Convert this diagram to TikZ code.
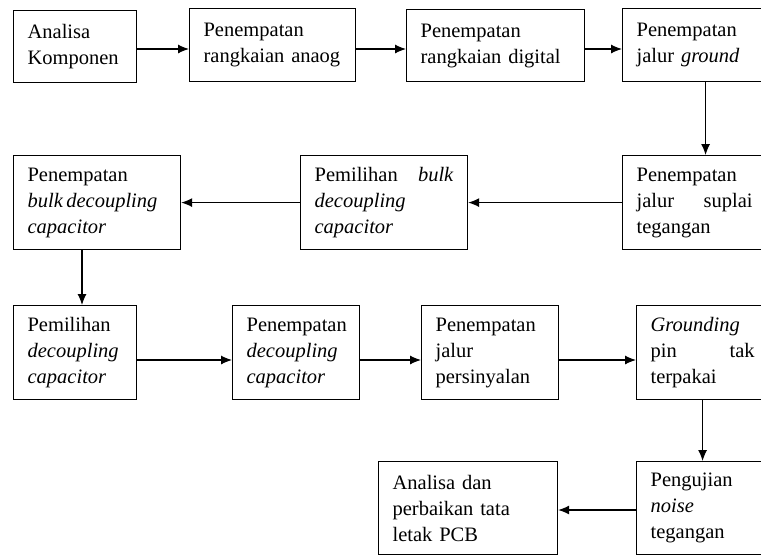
\documentclass[tikz,border=0pt]{standalone}
\usepackage{fontspec}
\setmainfont{Liberation Serif}
\usetikzlibrary{arrows.meta}
\tikzset{
  box/.style={draw, line width=1.2pt, rectangle, anchor=north west, inner xsep=14pt, inner ysep=0pt,
    align=left, font=\fontsize{20.5}{26}\selectfont},
  arr/.style={line width=1.1pt, -{Latex[length=11pt,width=9pt]}}
}
\newcommand{\bx}[6]{\node[box, minimum width=#4pt, minimum height=#5pt, text width=#4pt-28pt] (#1) at (#2,#3) {#6};}
\newcommand{\jline}[3]{\leavevmode\hbox to #1pt{#2\hfill #3}}
\begin{document}
\begin{tikzpicture}[x=1pt,y=-1pt]
\useasboundingbox (0,0) rectangle (761,555);
\clip (0,0) rectangle (761,555);
\fill[white] (0,0) rectangle (761,555);
% row 1
\bx{A}{13}{10}{123}{72}{Analisa\\Komponen}
\bx{B}{189}{8}{166}{73}{Penempatan\\rangkaian anaog}
\bx{C}{406}{9}{178}{72}{Penempatan\\rangkaian digital}
\bx{D}{622}{8}{166}{73}{Penempatan\\jalur \textit{ground}}
% row 2
\bx{F}{13}{155}{167}{94}{Penempatan\\\textit{bulk\,decoupling}\\\textit{capacitor}}
\bx{G}{300}{155}{167}{94}{\jline{139}{Pemilihan}{\textit{bulk}}\\\textit{decoupling}\\\textit{capacitor}}
\bx{E}{622}{155}{166}{94}{Penempatan\\\jline{116}{jalur}{suplai}\\tegangan}
% row 3
\bx{H}{13}{305}{123}{94}{Pemilihan\\\textit{decoupling}\\\textit{capacitor}}
\bx{I}{232}{305}{127}{94}{Penempatan\\\textit{decoupling}\\\textit{capacitor}}
\bx{J}{421}{305}{137}{94}{Penempatan\\jalur\\persinyalan}
\bx{K}{636}{305}{132}{94}{\textit{Grounding}\\\jline{104}{pin}{tak}\\terpakai}
% row 4
\bx{M}{378}{461}{179}{93}{Analisa dan\\perbaikan tata\\letak PCB}
\bx{L}{636}{461}{132}{93}{Pengujian\\\textit{noise}\\tegangan}
% helper coordinates
\coordinate (r1) at (0,49);
\coordinate (r3) at (0,360);
\coordinate (r4) at (0,510);
\coordinate (fx) at (82,0);
% connectors
\draw[arr] (A.east |- r1) -- (B.west |- r1);
\draw[arr] (B.east |- r1) -- (C.west |- r1);
\draw[arr] (C.east |- r1) -- (D.west |- r1);
\draw[arr] (D.south) -- (E.north);
\draw[arr] (E.west) -- (G.east);
\draw[arr] (G.west) -- (F.east);
\draw[arr] (F.south -| fx) -- (H.north -| fx);
\draw[arr] (H.east |- r3) -- (I.west |- r3);
\draw[arr] (I.east |- r3) -- (J.west |- r3);
\draw[arr] (J.east |- r3) -- (K.west |- r3);
\draw[arr] (K.south) -- (L.north);
\draw[arr] (L.west |- r4) -- (M.east |- r4);
\end{tikzpicture}
\end{document}
